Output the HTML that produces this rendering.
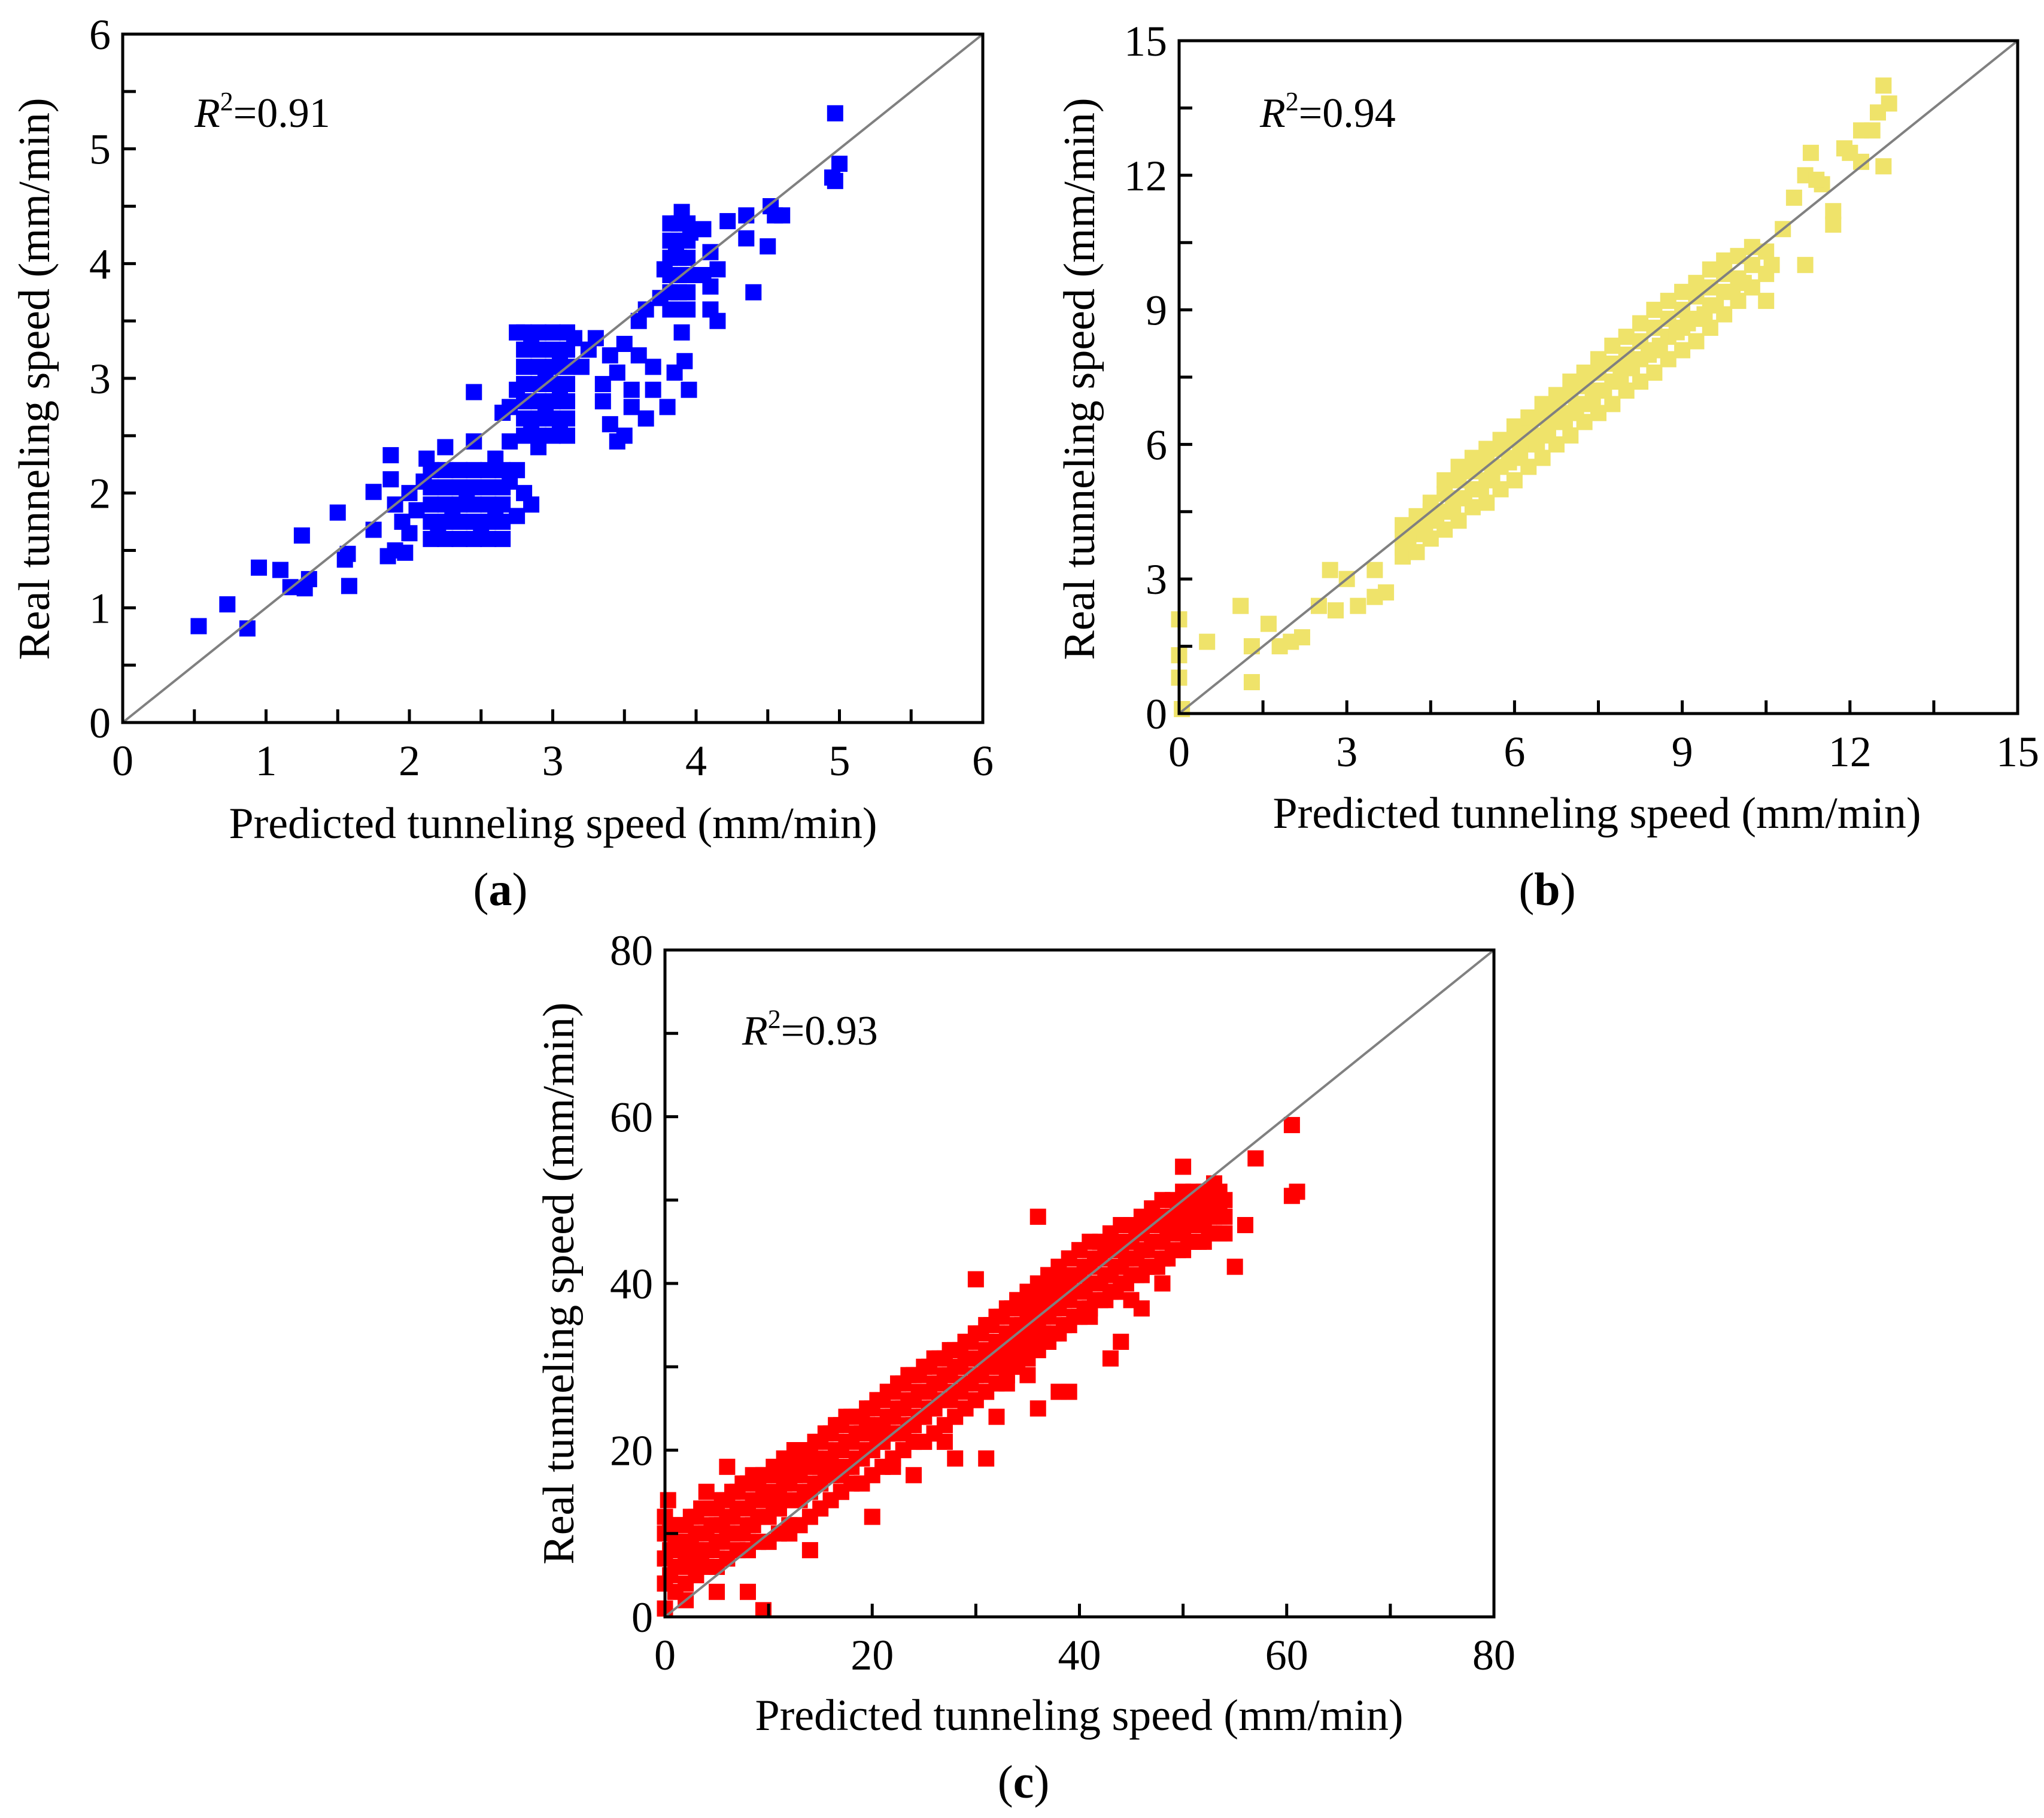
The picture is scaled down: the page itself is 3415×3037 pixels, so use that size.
<!DOCTYPE html>
<html><head><meta charset="utf-8"><style>
html,body{margin:0;padding:0;background:#fff;}
svg{display:block;}
text{font-family:"Times New Roman","Liberation Serif","DejaVu Serif",serif;}
</style></head><body>
<svg id="fig" width="3415" height="3037" viewBox="0 0 3415 3037" xmlns="http://www.w3.org/2000/svg"></svg>
<script>
// ---- Panel (a) data ----
const aX = [2.15,2.15,2.15,2.15,2.15,2.25,2.25,2.25,2.25,2.25,2.35,2.35,2.35,2.35,2.35,2.45,2.45,2.45,2.45,2.45,2.55,2.55,2.55,2.55,2.55,2.65,2.65,2.65,2.65,2.65,
2.25,2.45,2.7,2.75,2.8,2.85,2.75,2.6,2.7,
2.8,2.8,2.8,2.8,2.8,2.8,2.8,2.9,2.9,2.9,2.9,2.9,2.9,2.9,3.0,3.0,3.0,3.0,3.0,3.0,3.0,3.1,3.1,3.1,3.1,3.1,3.1,3.1,
2.7,2.65,2.75,3.15,2.9,3.05,2.75,2.45,
3.2,3.3,3.35,3.4,3.45,3.5,3.5,3.55,3.6,3.6,3.65,3.65,3.7,3.7,3.45,3.35,3.55,3.25,3.4,
3.82,3.82,3.82,3.82,3.82,3.82,3.88,3.88,3.88,3.88,3.88,3.88,3.94,3.94,3.94,3.94,3.94,3.94,
4.05,4.1,4.1,4.1,4.15,4.05,4.15,3.75,3.78,3.9,3.95,3.85,3.92,3.8,4.22,4.35,4.35,4.4,4.5,4.52,4.55,4.6,4.95,4.97,4.97,5.0,
0.53,0.73,0.87,0.95,1.1,1.17,1.25,1.27,1.3,1.5,1.55,1.57,1.58,1.75,1.75,1.85,1.87,1.87,1.9,1.9,1.97,2.0,2.0,2.05,2.12,2.1,1.95,
2.2,2.3,2.4,2.5,2.6,2.85,2.95,3.05,2.85,2.95,3.05,3.9,3.86,3.96];
const aY = [1.6,1.75,1.9,2.05,2.2,1.6,1.75,1.9,2.05,2.2,1.6,1.75,1.9,2.05,2.2,1.6,1.75,1.9,2.05,2.2,1.6,1.75,1.9,2.05,2.2,1.6,1.75,1.9,2.05,2.2,
2.4,2.45,2.45,2.2,2.0,1.9,1.8,2.3,2.1,
2.5,2.65,2.8,2.95,3.1,3.25,3.4,2.5,2.65,2.8,2.95,3.1,3.25,3.4,2.5,2.65,2.8,2.95,3.1,3.25,3.4,2.5,2.65,2.8,2.95,3.1,3.25,3.4,
2.75,2.7,3.4,3.35,2.4,2.55,2.9,2.88,
3.1,3.35,2.8,2.6,3.05,3.3,2.5,2.9,3.2,3.5,3.6,2.65,3.1,2.9,2.45,2.95,2.75,3.25,3.2,
3.6,3.75,3.9,4.05,4.2,4.35,3.6,3.75,3.9,4.05,4.2,4.35,3.6,3.75,3.9,4.05,4.2,4.35,
4.3,4.1,3.8,3.6,3.5,3.9,3.95,3.7,3.95,3.4,2.9,3.05,3.15,2.75,4.37,4.42,4.22,3.75,4.15,4.5,4.42,4.42,4.75,4.72,5.31,4.87,
0.84,1.03,0.82,1.35,1.33,1.18,1.63,1.17,1.25,1.83,1.42,1.47,1.19,2.01,1.68,1.45,2.33,2.12,1.5,1.9,1.48,1.65,2.0,1.85,2.3,2.1,1.75,
1.68,1.83,1.97,1.68,1.83,2.58,3.02,3.18,3.33,2.72,2.88,4.45,4.12,4.27];
const aTicks = [0,1,2,3,4,5,6];

// ---- Panel (b) data ----
const bX = [0,0,0,0.05,0.5,1.1,1.3,1.3,1.6,1.8,2.0,2.2,2.5,2.7,2.8,3.0,3.2,3.5,3.5,3.7,
4.0,4.0,4.0,4.0,4.25,4.25,4.25,4.25,4.5,4.5,4.5,4.5,4.75,4.75,4.75,4.75,5.0,5.0,5.0,5.0,5.25,5.25,5.25,5.25,5.5,5.5,5.5,5.5,5.75,5.75,5.75,5.75,
6.0,6.0,6.0,6.0,6.25,6.25,6.25,6.25,6.5,6.5,6.5,6.5,6.75,6.75,6.75,6.75,7.0,7.0,7.0,7.0,7.25,7.25,7.25,7.25,7.5,7.5,7.5,7.5,7.75,7.75,7.75,7.75,
8.0,8.0,8.0,8.0,8.25,8.25,8.25,8.25,8.5,8.5,8.5,8.5,8.75,8.75,8.75,8.75,9.0,9.0,9.0,9.0,9.25,9.25,9.25,9.25,9.5,9.5,9.5,9.5,9.75,9.75,9.75,9.75,10.0,10.0,10.0,10.25,10.25,10.25,10.5,10.5,
10.6,11.0,11.2,11.5,11.3,11.7,11.7,11.9,12.2,12.2,12.4,12.5,12.6,12.7,12.6,11.2,10.5,12.0,10.8,11.4,
4.1,4.6,5.1,5.6,6.1,6.6,7.1,7.6,8.1,8.6,9.1,9.6,10.1,4.4,4.9,5.4,5.9,6.4,6.9,7.4,7.9,8.4,8.9,9.4,9.9];
const bY = [2.1,1.3,0.8,0.1,1.6,2.4,0.7,1.5,2.0,1.5,1.6,1.7,2.4,3.2,2.3,3.0,2.4,3.2,2.6,2.7,
3.5,3.9,4.2,3.7,3.6,4.0,4.4,4.2,3.9,4.3,4.7,4.5,4.1,4.5,4.9,5.2,4.3,4.8,5.2,5.5,4.6,5.0,5.4,5.7,4.7,5.2,5.6,5.9,5.0,5.5,5.9,6.1,
5.2,5.7,6.1,6.4,5.5,6.0,6.3,6.6,5.7,6.2,6.6,6.9,6.0,6.5,6.8,7.1,6.2,6.7,7.1,7.4,6.5,6.9,7.3,7.6,6.7,7.2,7.6,7.9,6.9,7.4,7.8,8.2,
7.2,7.7,8.0,8.4,7.4,7.9,8.3,8.7,7.6,8.1,8.6,9.0,7.9,8.4,8.8,9.2,8.1,8.6,9.0,9.4,8.3,8.8,9.3,9.6,8.6,9.1,9.5,9.9,8.9,9.4,9.8,10.1,9.2,9.7,10.2,9.5,10.0,10.4,9.8,10.3,
10.0,11.5,12.0,11.8,12.5,11.2,10.9,12.6,13.0,12.3,13.0,13.4,14.0,13.6,12.2,10.0,9.2,12.5,10.8,11.9,
3.8,4.4,4.8,5.3,5.8,6.3,6.8,7.2,7.7,8.2,8.7,9.1,9.6,4.1,4.6,5.0,5.6,6.0,6.5,7.0,7.5,8.0,8.5,8.9,9.4];
const bTicks = [0,3,6,9,12,15];

// ---- Panel (c) data ----
const cX = [0,0,0,0,0,1,1,1,1,2,2,2,2,3,3,3,3,4,4,4,4,5,5,5,5,6,6,6,6,7,7,7,7,8,8,8,8,9,9,9,9,10,10,10,10,11,11,11,11,12,12,12,12,13,13,13,13,14,14,14,14,15,15,15,15,
16,16,16,16,17,17,17,17,18,18,18,18,19,19,19,19,20,20,20,20,21,21,21,21,22,22,22,22,23,23,23,23,24,24,24,24,25,25,25,25,26,26,26,26,27,27,27,27,28,28,28,28,29,29,29,29,30,30,30,30,
31,31,31,31,32,32,32,32,33,33,33,33,34,34,34,34,35,35,35,35,36,36,36,36,37,37,37,37,38,38,38,38,39,39,39,39,40,40,40,40,41,41,41,41,42,42,42,42,43,43,43,43,44,44,44,44,45,45,45,45,
46,46,46,46,47,47,47,47,48,48,48,48,49,49,49,49,50,50,50,50,51,51,51,51,52,52,52,52,53,53,53,54,54,54,
0.3,4,6,9.5,8,5,14,20,24,28,30,32,36,38,36,43,44,46,48,50,55,56,57,60.5,60.5,61,53,39,27,31,2,1.5,12,17,22,26,33,35,41,45];
const cY = [1,4,7,10,12,3,6,9,11,4,7,9,11,5,8,10,12,6,8,10,13,6,9,11,13,7,10,12,14,8,10,13,15,8,11,13,16,9,12,14,16,9,12,14,17,10,13,15,17,11,14,16,18,11,14,17,19,12,15,18,20,13,16,18,21,
14,17,19,22,15,17,20,23,16,18,21,24,16,19,22,24,17,20,22,25,18,21,23,26,19,22,24,27,20,22,25,28,21,23,26,29,21,24,27,30,22,25,28,31,23,26,29,31,24,27,30,32,25,28,31,33,26,29,31,34,
27,30,32,35,28,31,33,36,29,32,34,37,30,33,35,38,31,34,36,39,32,35,37,40,33,36,38,41,34,37,39,42,35,38,40,43,36,39,41,44,37,40,42,45,38,40,43,45,39,41,44,46,40,42,44,47,41,43,45,47,
41,44,46,48,42,45,47,49,43,45,47,50,44,46,48,50,44,46,48,51,45,47,49,51,45,47,49,51,46,48,50,46,48,50,
14,15,18,0.8,3,3,8,12,17,19,40.5,24,25,27,48,31,33,37,40,54,42,47,55,59,50.5,51,52,27,21,19,2,8,10,15,18,22,28,29,36,38];
const cX2 = [0.5,0.5,0.5,1.5,1.5,1.5,2.5,2.5,2.5,3.5,3.5,3.5,4.5,4.5,4.5,5.5,5.5,5.5,6.5,6.5,6.5,7.5,7.5,7.5,8.5,8.5,8.5,9.5,9.5,9.5,10.5,10.5,10.5,11.5,11.5,11.5,12.5,12.5,12.5,13.5,13.5,13.5,14.5,14.5,14.5,15.5,15.5,15.5,16.5,16.5,16.5,17.5,17.5,17.5,18.5,18.5,18.5,19.5,19.5,19.5,
20.5,20.5,20.5,21.5,21.5,21.5,22.5,22.5,22.5,23.5,23.5,23.5,24.5,24.5,24.5,25.5,25.5,25.5,26.5,26.5,26.5,27.5,27.5,27.5,28.5,28.5,28.5,29.5,29.5,29.5,30.5,30.5,30.5,31.5,31.5,31.5,32.5,32.5,32.5,33.5,33.5,33.5,34.5,34.5,34.5,35.5,35.5,35.5,36.5,36.5,36.5,37.5,37.5,37.5,
38.5,38.5,38.5,39.5,39.5,39.5,40.5,40.5,40.5,41.5,41.5,41.5,42.5,42.5,42.5,43.5,43.5,43.5,44.5,44.5,44.5,45.5,45.5,45.5,46.5,46.5,46.5,47.5,47.5,47.5,48.5,48.5,48.5,49.5,49.5,49.5,50.5,50.5,50.5,51.5,51.5,51.5,52.5,52.5,52.5,53.5,53.5,53.5];
const cY2 = [5,8,11,6,9,11,6,9,12,7,10,13,8,11,13,9,11,14,10,12,15,10,13,16,11,14,17,12,15,17,13,15,18,14,16,19,14,17,20,15,18,20,16,19,21,17,19,22,18,20,23,18,21,24,19,22,24,20,23,25,
21,23,26,22,24,27,22,25,28,23,26,29,24,27,29,25,27,30,26,28,31,26,29,32,27,30,32,28,31,33,29,31,34,30,32,35,30,33,36,31,34,37,32,35,37,33,35,38,34,36,39,34,37,40,
35,38,41,36,39,41,37,39,42,38,40,43,38,41,44,39,42,45,40,43,45,41,43,46,42,44,47,42,45,48,43,46,48,44,47,49,45,47,50,45,48,50,46,48,51,46,49,51];
const cTicks = [0,20,40,60,80];

const NS = 'http://www.w3.org/2000/svg';
const svg = document.getElementById('fig');
function mk(tag, attrs, parent){ const e=document.createElementNS(NS,tag); for(const k in attrs) e.setAttribute(k,attrs[k]); (parent||svg).appendChild(e); return e; }

function panel(key, L, R, T, B, max, ticks, sets, color, r2pos, xTitlePos, yTitlePos, capPos){
  const g = mk('g',{});
  
  
  const sx = v => L + v/max*(R-L);
  const sy = v => B - v/max*(B-T);
  const pg = mk('g',{fill:color},g);
  
  
  const s = 27;
  sets.forEach(([xs,ys])=>{
    for(let i=0;i<xs.length;i++){
      const p = mk('rect',{x:sx(xs[i])-s/2,y:sy(ys[i])-s/2,width:s,height:s},pg);
      
      
    }
  });
  const d = mk('line',{x1:sx(0),y1:sy(0),x2:sx(max),y2:sy(max),stroke:'#808080','stroke-width':4},g);
  
  
  const box = mk('rect',{x:L,y:T,width:R-L,height:B-T,fill:'none',stroke:'#000','stroke-width':5},g);
  
  
  const step = ticks[1]-ticks[0];
  for(let k=0;k<=2*(ticks.length-1);k++){
    const v = k*step/2;
    const len = 22;
    mk('line',{x1:sx(v),y1:B,x2:sx(v),y2:B-len,stroke:'#000','stroke-width':5},g);
    mk('line',{x1:L,y1:sy(v),x2:L+len,y2:sy(v),stroke:'#000','stroke-width':5},g);
  }
  ticks.forEach(v=>{
    const tx = mk('text',{x:sx(v),y:B+88,'font-size':72,'text-anchor':'middle'},g);
    tx.textContent = v;
    
    
    const ty = mk('text',{x:L-20,y:sy(v)+25,'font-size':72,'text-anchor':'end'},g);
    ty.textContent = v;
    
    
  });
  const xt = mk('text',{x:xTitlePos[0],y:xTitlePos[1],'font-size':74,'text-anchor':'middle'},g);
  xt.textContent = 'Predicted tunneling speed (mm/min)';
  
  
  const yt = mk('text',{x:0,y:0,'font-size':74,'text-anchor':'middle',transform:`translate(${yTitlePos[0]},${yTitlePos[1]}) rotate(-90)`},g);
  yt.textContent = 'Real tunneling speed (mm/min)';
  
  
  const r2 = mk('text',{x:r2pos[0],y:r2pos[1],'font-size':70},g);
  r2.innerHTML = '<tspan font-style="italic">R</tspan><tspan font-size="44" dy="-28">2</tspan><tspan dy="28">=' + r2pos[2] + '</tspan>';
  
  
  const cap = mk('text',{x:capPos[0],y:capPos[1],'font-size':78,'text-anchor':'middle'},g);
  cap.innerHTML = '(<tspan font-weight="bold">'+key+'</tspan>)';
  
  
}

panel('a',205,1642,57,1207,6,aTicks,[[aX,aY]],'#0000ff',[325,212,'0.91'],[924,1400],[82,633],[836,1512]);
panel('b',1970,3371,68,1192,15,bTicks,[[bX,bY]],'#efe36a',[2105,212,'0.94'],[2668,1383],[1828,633],[2585,1512]);
panel('c',1111,2496,1587,2701,80,cTicks,[[cX,cY],[cX2,cY2]],'#ff0000',[1240,1745,'0.93'],[1803,2890],[958,2144],[1710,3003]);
</script>
</body></html>
